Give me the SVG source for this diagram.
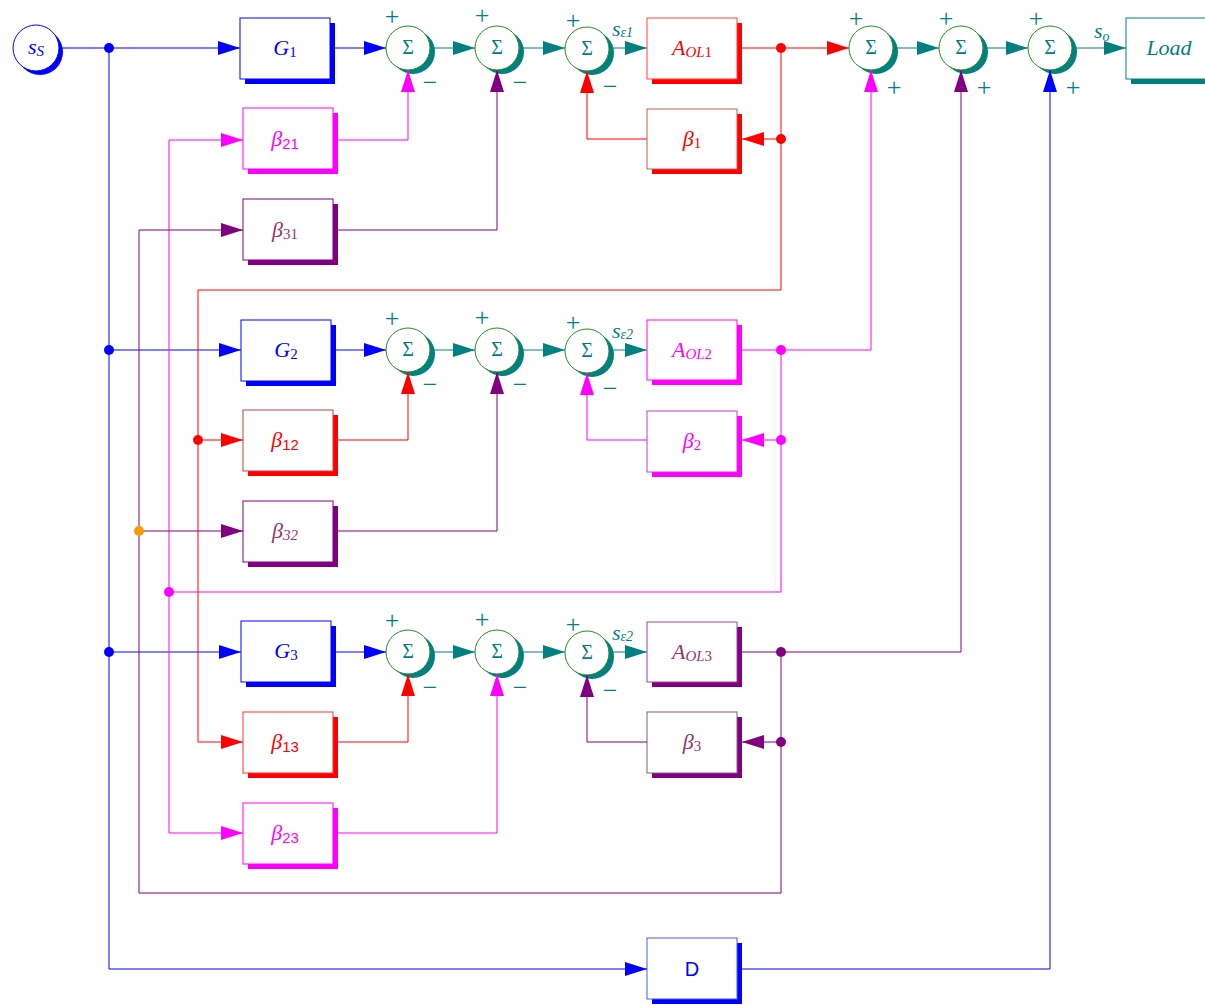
<svg xmlns="http://www.w3.org/2000/svg" width="1205" height="1005" viewBox="0 0 1205 1005">
<style>
.lbl{font-family:"Liberation Serif","Times New Roman",serif;font-style:italic;font-size:22px;text-anchor:middle;dominant-baseline:central}
.up{font-style:normal}
.sub{font-size:15px}
.ss{font-family:"Liberation Sans",Arial,sans-serif;font-style:normal;font-size:15px}
.sig{font-family:"Liberation Serif","Times New Roman",serif;font-size:20px;fill:#008080;text-anchor:middle;dominant-baseline:central}
.sg{font-family:"Liberation Serif","Times New Roman",serif;font-size:26px;fill:#008080;text-anchor:middle;dominant-baseline:central}
.sc{fill:#fff;stroke:#228b22;stroke-width:1}
.sh{fill:#008080}
.bx{fill:#fff;stroke-width:1}
.ln{fill:none;stroke-width:1}
.b{stroke:#0000ff}.t{stroke:#008080}.r{stroke:#ff0000}.m{stroke:#ff00ff}.p{stroke:#800080}
</style>
<defs>
<marker id="ab" markerWidth="22" markerHeight="14" refX="22" refY="7" orient="auto" markerUnits="userSpaceOnUse"><path d="M0,0L22,7L0,14z" fill="#0000ff"/></marker>
<marker id="at" markerWidth="22" markerHeight="14" refX="22" refY="7" orient="auto" markerUnits="userSpaceOnUse"><path d="M0,0L22,7L0,14z" fill="#008080"/></marker>
<marker id="ar" markerWidth="22" markerHeight="14" refX="22" refY="7" orient="auto" markerUnits="userSpaceOnUse"><path d="M0,0L22,7L0,14z" fill="#ff0000"/></marker>
<marker id="am" markerWidth="22" markerHeight="14" refX="22" refY="7" orient="auto" markerUnits="userSpaceOnUse"><path d="M0,0L22,7L0,14z" fill="#ff00ff"/></marker>
<marker id="ap" markerWidth="22" markerHeight="14" refX="22" refY="7" orient="auto" markerUnits="userSpaceOnUse"><path d="M0,0L22,7L0,14z" fill="#800080"/></marker>
</defs>
<rect width="1205" height="1005" fill="#fff"/>

<g id="nodes">
<g id="src"><circle cx="40" cy="52" r="23" fill="#0000ff"/><circle cx="36" cy="48" r="23" fill="#fff" stroke="#0000ff"/><text class="lbl" x="36" y="46" fill="#0000ff" font-size="24">s<tspan class="sub" dy="5">S</tspan></text></g>

<g id="G1"><rect x="245" y="23" width="90" height="61" fill="#0000ff"/><rect class="bx" x="240" y="18" width="90" height="61" stroke="#0000ff"/><text class="lbl" x="285" y="47" fill="#0000ff">G<tspan class="sub up" dy="5">1</tspan></text></g>
<g id="G2"><rect x="246" y="325" width="90" height="61" fill="#0000ff"/><rect class="bx" x="241" y="320" width="90" height="61" stroke="#0000ff"/><text class="lbl" x="286" y="349" fill="#0000ff">G<tspan class="sub up" dy="5">2</tspan></text></g>
<g id="G3"><rect x="246" y="626" width="90" height="61" fill="#0000ff"/><rect class="bx" x="241" y="621" width="90" height="61" stroke="#0000ff"/><text class="lbl" x="286" y="650" fill="#0000ff">G<tspan class="sub up" dy="5">3</tspan></text></g>

<g id="b21"><rect x="248" y="113" width="90" height="61" fill="#ff00ff"/><rect class="bx" x="243" y="108" width="90" height="61" stroke="#ff00ff"/><text class="lbl" x="285" y="138" fill="#ff00ff">β<tspan class="ss" dy="5">21</tspan></text></g>
<g id="b31"><rect x="248" y="204" width="90" height="61" fill="#800080"/><rect class="bx" x="243" y="199" width="90" height="61" stroke="#800080"/><text class="lbl" x="285" y="229" fill="#993366">β<tspan class="sub up" dy="5">31</tspan></text></g>
<g id="b12"><rect x="248" y="415" width="90" height="61" fill="#ff0000"/><rect class="bx" x="243" y="410" width="90" height="61" stroke="#c04040"/><text class="lbl" x="285" y="439" fill="#ff0000">β<tspan class="ss" dy="5">12</tspan></text></g>
<g id="b32"><rect x="248" y="506" width="90" height="61" fill="#800080"/><rect class="bx" x="243" y="501" width="90" height="61" stroke="#800080"/><text class="lbl" x="285" y="530" fill="#993366">β<tspan class="sub" dy="5">32</tspan></text></g>
<g id="b13"><rect x="248" y="717" width="90" height="61" fill="#ff0000"/><rect class="bx" x="243" y="712" width="90" height="61" stroke="#ff3333"/><text class="lbl" x="285" y="741" fill="#ff0000">β<tspan class="ss" dy="5">13</tspan></text></g>
<g id="b23"><rect x="248" y="808" width="90" height="61" fill="#ff00ff"/><rect class="bx" x="243" y="803" width="90" height="61" stroke="#ff00ff"/><text class="lbl" x="285" y="832" fill="#ff00ff">β<tspan class="ss" dy="5">23</tspan></text></g>

<g id="AOL1"><rect x="652" y="23" width="90" height="61" fill="#ff0000"/><rect class="bx" x="647" y="18" width="90" height="61" stroke="#ff4040"/><text class="lbl" x="692" y="47" fill="#ff0000">A<tspan class="sub" dy="5">OL<tspan class="up">1</tspan></tspan></text></g>
<g id="beta1"><rect x="652" y="114" width="90" height="60" fill="#ff0000"/><rect class="bx" x="647" y="109" width="90" height="60" stroke="#c06050"/><text class="lbl" x="692" y="138" fill="#ff0000">β<tspan class="sub up" dy="5">1</tspan></text></g>
<g id="AOL2"><rect x="652" y="325" width="90" height="60" fill="#ff00ff"/><rect class="bx" x="647" y="320" width="90" height="60" stroke="#ff00ff"/><text class="lbl" x="692" y="349" fill="#ff00ff">A<tspan class="sub" dy="5">OL<tspan class="up">2</tspan></tspan></text></g>
<g id="beta2"><rect x="652" y="416" width="90" height="61" fill="#ff00ff"/><rect class="bx" x="647" y="411" width="90" height="61" stroke="#c040c0"/><text class="lbl" x="692" y="440" fill="#ff00ff">β<tspan class="sub up" dy="5">2</tspan></text></g>
<g id="AOL3"><rect x="652" y="627" width="90" height="60" fill="#800080"/><rect class="bx" x="647" y="622" width="90" height="60" stroke="#a040a0"/><text class="lbl" x="692" y="651" fill="#993366">A<tspan class="sub" dy="5">OL<tspan class="up">3</tspan></tspan></text></g>
<g id="beta3"><rect x="652" y="717" width="90" height="61" fill="#800080"/><rect class="bx" x="647" y="712" width="90" height="61" stroke="#806080"/><text class="lbl" x="692" y="741" fill="#993366">β<tspan class="sub up" dy="5">3</tspan></text></g>

<g id="D"><rect x="652" y="943" width="90" height="61" fill="#0000ff"/><rect class="bx" x="647" y="938" width="90" height="61" stroke="#4060e0"/><text x="692" y="969" fill="#0000ff" font-family="Liberation Sans,Arial,sans-serif" font-size="20" text-anchor="middle" dominant-baseline="central">D</text></g>
<g id="Load"><rect x="1131" y="23" width="90" height="61" fill="#008080"/><rect class="bx" x="1126" y="18" width="90" height="61" stroke="#008080"/><text class="lbl" x="1169" y="47" fill="#008080">Load</text></g>

<g id="s11"><circle class="sh" cx="413" cy="52" r="22"/><circle class="sc" cx="408" cy="48" r="22"/><text class="sig" x="408" y="47">Σ</text><text class="sg" x="392" y="16">+</text><text class="sg" x="430" y="82">−</text></g>
<g id="s12"><circle class="sh" cx="502" cy="52" r="22"/><circle class="sc" cx="497" cy="48" r="22"/><text class="sig" x="497" y="47">Σ</text><text class="sg" x="482" y="15">+</text><text class="sg" x="520" y="82">−</text></g>
<g id="s13"><circle class="sh" cx="592" cy="53" r="22"/><circle class="sc" cx="587" cy="49" r="22"/><text class="sig" x="587" y="48">Σ</text><text class="sg" x="573" y="20">+</text><text class="sg" x="610" y="86">−</text></g>
<g id="s21"><circle class="sh" cx="413" cy="354" r="22"/><circle class="sc" cx="408" cy="350" r="22"/><text class="sig" x="408" y="349">Σ</text><text class="sg" x="392" y="318">+</text><text class="sg" x="430" y="384">−</text></g>
<g id="s22"><circle class="sh" cx="502" cy="354" r="22"/><circle class="sc" cx="497" cy="350" r="22"/><text class="sig" x="497" y="349">Σ</text><text class="sg" x="482" y="317">+</text><text class="sg" x="520" y="384">−</text></g>
<g id="s23"><circle class="sh" cx="592" cy="355" r="22"/><circle class="sc" cx="587" cy="351" r="22"/><text class="sig" x="587" y="350">Σ</text><text class="sg" x="573" y="322">+</text><text class="sg" x="610" y="388">−</text></g>
<g id="s31"><circle class="sh" cx="413" cy="656" r="22"/><circle class="sc" cx="408" cy="652" r="22"/><text class="sig" x="408" y="651">Σ</text><text class="sg" x="392" y="620">+</text><text class="sg" x="430" y="687">−</text></g>
<g id="s32"><circle class="sh" cx="502" cy="656" r="22"/><circle class="sc" cx="497" cy="652" r="22"/><text class="sig" x="497" y="651">Σ</text><text class="sg" x="482" y="619">+</text><text class="sg" x="520" y="687">−</text></g>
<g id="s33"><circle class="sh" cx="592" cy="657" r="22"/><circle class="sc" cx="587" cy="653" r="22"/><text class="sig" x="587" y="652">Σ</text><text class="sg" x="573" y="624">+</text><text class="sg" x="610" y="690">−</text></g>
<g id="s4"><circle class="sh" cx="876" cy="52" r="22"/><circle class="sc" cx="871" cy="48" r="22"/><text class="sig" x="871" y="47">Σ</text><text class="sg" x="856" y="18">+</text><text class="sg" x="894" y="87">+</text></g>
<g id="s5"><circle class="sh" cx="966" cy="52" r="22"/><circle class="sc" cx="961" cy="48" r="22"/><text class="sig" x="961" y="47">Σ</text><text class="sg" x="946" y="18">+</text><text class="sg" x="984" y="87">+</text></g>
<g id="s6"><circle class="sh" cx="1055" cy="52" r="22"/><circle class="sc" cx="1050" cy="48" r="22"/><text class="sig" x="1050" y="47">Σ</text><text class="sg" x="1036" y="18">+</text><text class="sg" x="1073" y="87">+</text></g>
</g>

<g id="connectors">
<path class="ln b" d="M59,48H240" marker-end="url(#ab)"/>
<path class="ln b" d="M109,48V969H647" marker-end="url(#ab)"/>
<path class="ln b" d="M109,350H241" marker-end="url(#ab)"/>
<path class="ln b" d="M109,652H241" marker-end="url(#ab)"/>
<path class="ln b" d="M335,48H386" marker-end="url(#ab)"/>
<path class="ln b" d="M336,350H386" marker-end="url(#ab)"/>
<path class="ln b" d="M336,652H386" marker-end="url(#ab)"/>
<path class="ln b" d="M742,969H1050V70" marker-end="url(#ab)"/>

<path class="ln t" d="M430,48H475" marker-end="url(#at)"/>
<path class="ln t" d="M519,48H565" marker-end="url(#at)"/>
<path class="ln t" d="M609,48H647" marker-end="url(#at)"/>
<path class="ln t" d="M430,350H475" marker-end="url(#at)"/>
<path class="ln t" d="M519,350H565" marker-end="url(#at)"/>
<path class="ln t" d="M609,350H647" marker-end="url(#at)"/>
<path class="ln t" d="M430,652H475" marker-end="url(#at)"/>
<path class="ln t" d="M519,652H565" marker-end="url(#at)"/>
<path class="ln t" d="M609,652H647" marker-end="url(#at)"/>
<path class="ln t" d="M893,48H939" marker-end="url(#at)"/>
<path class="ln t" d="M983,48H1028" marker-end="url(#at)"/>
<path class="ln t" d="M1072,48H1126" marker-end="url(#at)"/>

<path class="ln r" d="M742,48H849" marker-end="url(#ar)"/>
<path class="ln r" d="M781,48V290H198V742H243" marker-end="url(#ar)"/>
<path class="ln r" d="M781,139H742" marker-end="url(#ar)"/>
<path class="ln r" d="M647,139H587V71" marker-end="url(#ar)"/>
<path class="ln r" d="M198,440H243" marker-end="url(#ar)"/>
<path class="ln r" d="M338,440H408V372" marker-end="url(#ar)"/>
<path class="ln r" d="M338,742H408V674" marker-end="url(#ar)"/>

<path class="ln m" d="M742,350H871V70" marker-end="url(#am)"/>
<path class="ln m" d="M781,350V592H169"/>
<path class="ln m" d="M169,592V140H243" marker-end="url(#am)"/>
<path class="ln m" d="M169,592V833H243" marker-end="url(#am)"/>
<path class="ln m" d="M781,440H742" marker-end="url(#am)"/>
<path class="ln m" d="M647,440H587V373" marker-end="url(#am)"/>
<path class="ln m" d="M338,140H408V70" marker-end="url(#am)"/>
<path class="ln m" d="M338,833H497V674" marker-end="url(#am)"/>

<path class="ln p" d="M742,652H961V70" marker-end="url(#ap)"/>
<path class="ln p" d="M781,652V893H139V230H243" marker-end="url(#ap)"/>
<path class="ln p" d="M781,742H742" marker-end="url(#ap)"/>
<path class="ln p" d="M647,742H587V675" marker-end="url(#ap)"/>
<path class="ln p" d="M139,531H243" marker-end="url(#ap)"/>
<path class="ln p" d="M338,230H497V70" marker-end="url(#ap)"/>
<path class="ln p" d="M338,531H497V372" marker-end="url(#ap)"/>

<g id="dots">
<circle cx="109" cy="48" r="5" fill="#0000ff"/><circle cx="109" cy="350" r="5" fill="#0000ff"/><circle cx="109" cy="652" r="5" fill="#0000ff"/>
<circle cx="781" cy="48" r="5" fill="#ff0000"/><circle cx="781" cy="139" r="5" fill="#ff0000"/><circle cx="198" cy="440" r="5" fill="#ff0000"/>
<circle cx="781" cy="350" r="5" fill="#ff00ff"/><circle cx="781" cy="440" r="5" fill="#ff00ff"/><circle cx="169" cy="592" r="5" fill="#ff00ff"/>
<circle cx="781" cy="652" r="5" fill="#800080"/><circle cx="781" cy="742" r="5" fill="#800080"/><circle cx="139" cy="531" r="5" fill="#ff9900"/>
</g>

<g id="signal-labels" fill="#008080" font-family="Liberation Serif,Times New Roman,serif" font-style="italic">
<text x="612" y="36" font-size="22">s<tspan font-size="14" dy="1">ε1</tspan></text>
<text x="612" y="338" font-size="22">s<tspan font-size="14" dy="1">ε2</tspan></text>
<text x="612" y="640" font-size="22">s<tspan font-size="14" dy="1">ε2</tspan></text>
<text x="1094" y="38" font-size="22">s<tspan font-size="14" dy="3">o</tspan></text>
</g>
</g>
</svg>
